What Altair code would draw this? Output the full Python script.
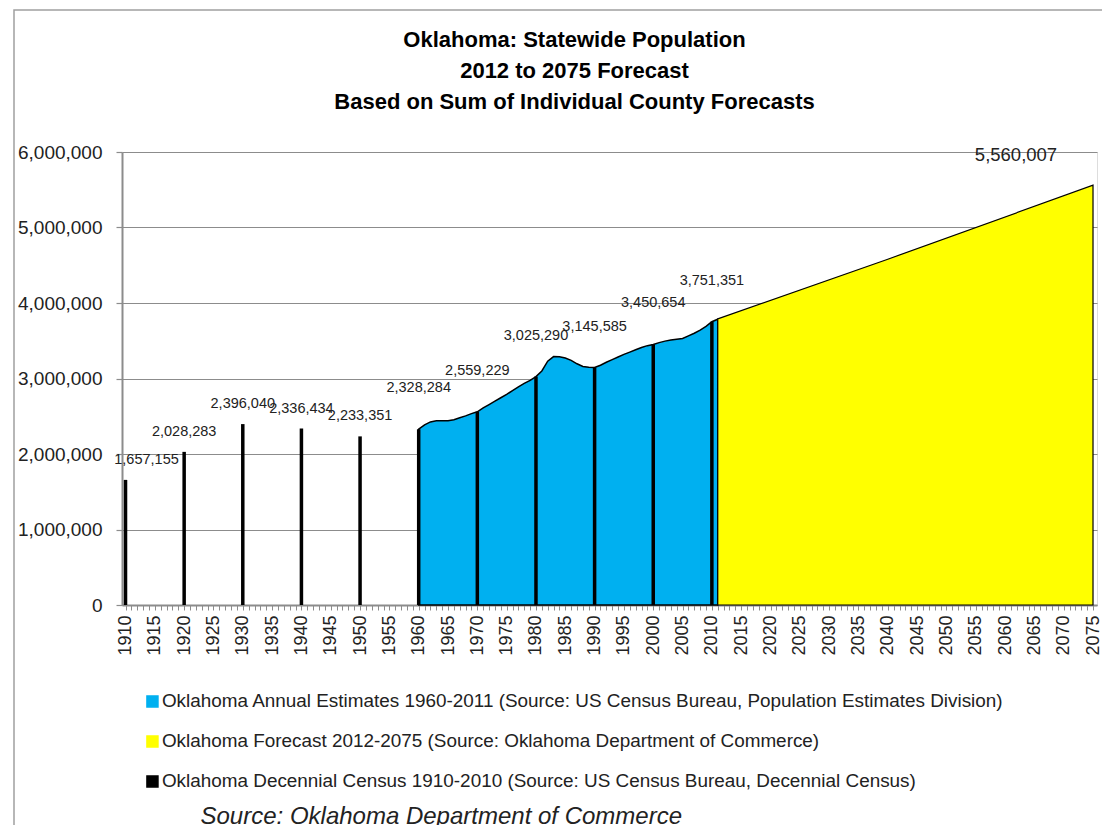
import altair as alt
import pandas as pd

FONT = "Liberation Sans, Arial, sans-serif"
TXT = "#222222"
GRID = "#8c8c8c"

S_EST = "Oklahoma Annual Estimates 1960-2011 (Source: US Census Bureau, Population Estimates Division)"
S_FC = "Oklahoma Forecast 2012-2075 (Source: Oklahoma Department of Commerce)"
S_CEN = "Oklahoma Decennial Census 1910-2010 (Source: US Census Bureau, Decennial Census)"

census_years = [1910, 1920, 1930, 1940, 1950, 1960, 1970, 1980, 1990, 2000, 2010]
census_pop = [1657155, 2028283, 2396040, 2336434, 2233351, 2328284,
              2559229, 3025290, 3145585, 3450654, 3751351]

est_years = list(range(1960, 2012))
est_pop = [
    2328284, 2385000, 2425000, 2440000, 2442000, 2440000, 2455000, 2480000, 2505000, 2535000,
    2559229, 2610000, 2655000, 2700000, 2745000, 2790000, 2840000, 2890000, 2935000, 2975000,
    3025290, 3100000, 3230000, 3290000, 3288000, 3272000, 3240000, 3195000, 3160000, 3150000,
    3145585, 3175000, 3215000, 3250000, 3285000, 3320000, 3350000, 3380000, 3410000, 3435000,
    3450654, 3475000, 3495000, 3510000, 3520000, 3530000, 3565000, 3600000, 3640000, 3690000,
    3751351, 3785000,
]

fc_years = [2011, 2040, 2075]
fc_pop = [3790000, 4580000, 5560007]

y_ticks = [0, 1000000, 2000000, 3000000, 4000000, 5000000, 6000000]
x_ticks = list(range(1910, 2076))

est_df = pd.DataFrame({"year": est_years, "pop": est_pop, "series": S_EST})
fc_df = pd.DataFrame({"year": fc_years, "pop": fc_pop, "series": S_FC})
cen_df = pd.DataFrame({"year": census_years, "pop": census_pop, "series": S_CEN})
end_df = fc_df.tail(1)

SERIES = [S_EST, S_FC, S_CEN]
xscale = alt.Scale(domain=[1909.4, 2075.68], nice=False, zero=False)
yscale = alt.Scale(domain=[0, 6000000], nice=False)
cscale = alt.Scale(domain=SERIES, range=["#00B0F0", "#FFFF00", "#000000"])
sscale = alt.Scale(domain=SERIES, range=["#000000", "#000000", "#000000"])

xaxis = alt.Axis(
    values=x_ticks,
    labelExpr="datum.value % 5 === 0 ? format(datum.value, 'd') : ''",
    labelAngle=270, labelAlign="right", labelBaseline="middle",
    labelFontSize=18, labelFont=FONT, labelColor=TXT, labelPadding=5,
    labelOverlap=False, labelFlush=False,
    tickSize=5, tickColor=GRID, tickWidth=1,
    domainColor=GRID, domainWidth=2, grid=False,
    title="Source: Oklahoma Department of Commerce",
    titleFont=FONT, titleFontSize=24, titleFontStyle="italic", titleFontWeight="normal",
    titleColor=TXT, titleAlign="left", titleBaseline="alphabetic",
    titleX=78, titleY=218, titleAngle=0,
)
yaxis = alt.Axis(
    values=y_ticks,
    labelExpr="format(datum.value, ',')",
    labelFontSize=19, labelFont=FONT, labelColor=TXT, labelPadding=14,
    tickSize=6, tickColor=GRID, tickWidth=1.2,
    domainColor=GRID, domainWidth=2,
    grid=True, gridColor=GRID, gridWidth=1.2, title=None,
)
legend = alt.Legend(
    orient="none", legendX=21, legendY=540, direction="vertical", title=None,
    symbolType="square", symbolSize=121, symbolStrokeColor="black", symbolStrokeWidth=1.5,
    labelFontSize=18.9, labelFont=FONT, labelColor=TXT, rowPadding=20, labelOffset=0,
    padding=0, labelLimit=1000,
)

X = alt.X("year:Q", scale=xscale, axis=xaxis)
Y = alt.Y("pop:Q", scale=yscale, axis=yaxis)
C = alt.Color("series:N", scale=cscale, legend=legend, sort=SERIES)
S = alt.Stroke("series:N", scale=sscale, legend=legend, sort=SERIES)

frame = alt.Chart(alt.Data(values=[{}])).mark_rect(
    fillOpacity=0, stroke="#a0a0a0", strokeWidth=1.5
).encode(x=alt.value(-108), x2=alt.value(1000), y=alt.value(-142), y2=alt.value(700))

area_est = alt.Chart(est_df).mark_area(strokeWidth=1.5).encode(x=X, y=Y, color=C, stroke=S)
area_fc = alt.Chart(fc_df).mark_area(strokeWidth=1.2).encode(x=X, y=Y, color=C, stroke=S)
bars = alt.Chart(cen_df).mark_rule(strokeWidth=3.5).encode(x=X, y=Y, y2=alt.datum(0), color=C)

T = alt.Text("pop:Q", format=",")
lab_kw = dict(fontSize=14.5, font=FONT, color=TXT, baseline="middle")
lab1910 = alt.Chart(cen_df).transform_filter("datum.year == 1910").mark_text(
    dx=21, dy=-20, **lab_kw).encode(x=X, y=Y, text=T)
lab_early = alt.Chart(cen_df).transform_filter("datum.year > 1910 && datum.year < 1960").mark_text(
    dy=-20, **lab_kw).encode(x=X, y=Y, text=T)
lab_late = alt.Chart(cen_df).transform_filter("datum.year >= 1960").mark_text(
    dy=-41, **lab_kw).encode(x=X, y=Y, text=T)
lab_end = alt.Chart(end_df).mark_text(
    dx=-77, dy=-30, fontSize=18.5, font=FONT, color=TXT, baseline="middle").encode(x=X, y=Y, text=T)

chart = alt.layer(frame, area_est, area_fc, bars, lab1910, lab_early, lab_late, lab_end).properties(
    width=975, height=453,
    title=alt.Title(
        ["Oklahoma: Statewide Population", "2012 to 2075 Forecast", "Based on Sum of Individual County Forecasts"],
        font=FONT, fontSize=22, fontWeight="bold", color="#000000", lineHeight=31,
        anchor="middle", frame="group", dx=-35, offset=-105,
    ),
    autosize=alt.AutoSizeParams(type="none"),
    padding={"left": 122, "top": 152, "right": 5, "bottom": 220},
).configure_view(stroke=None).configure(background="white")

chart.save("out.html", embed_options={"renderer": "svg", "actions": False})
